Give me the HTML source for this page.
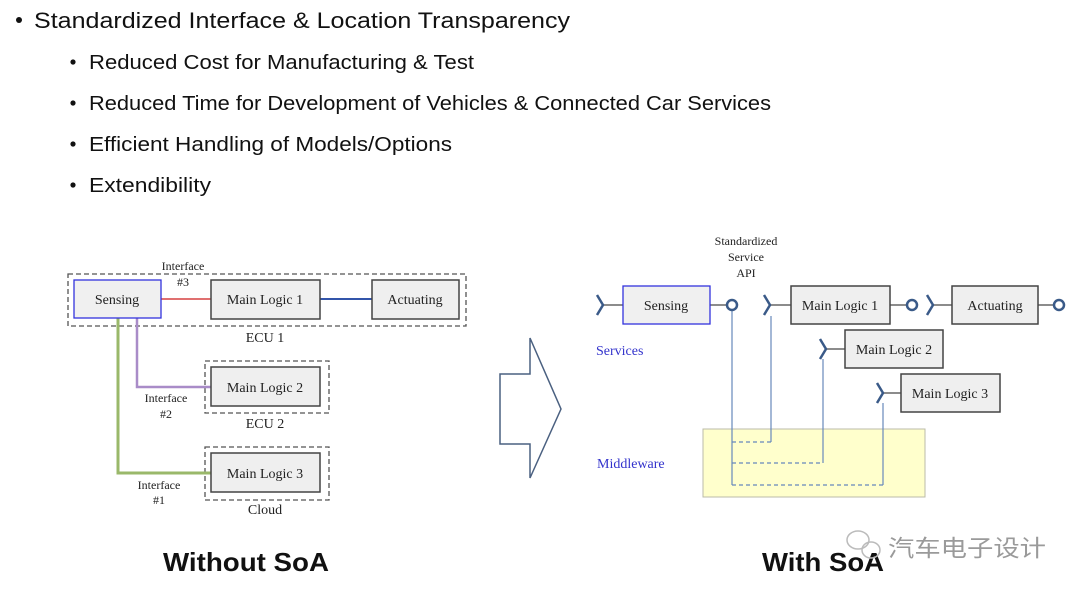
<!DOCTYPE html>
<html><head><meta charset="utf-8"><style>
html,body{margin:0;padding:0;background:#fff;}
svg{display:block;font-family:"Liberation Sans",sans-serif;}
.s{font-family:"Liberation Serif",serif;font-size:14px;fill:#222;}
.sm{font-family:"Liberation Serif",serif;font-size:12px;fill:#222;}
.bl{font-family:"Liberation Serif",serif;font-size:14px;fill:#3333cc;}
</style></head><body>
<svg width="1080" height="595" viewBox="0 0 1080 595" xmlns="http://www.w3.org/2000/svg">
<!-- bullets -->
<circle cx="19" cy="20" r="3" fill="#111"/>
<text x="34" y="28" font-size="22" fill="#111" textLength="536" lengthAdjust="spacingAndGlyphs">Standardized Interface &amp;  Location Transparency</text>
<g font-size="20" fill="#111">
<circle cx="73" cy="62" r="2.6" fill="#111"/>
<text x="89" y="69" textLength="385" lengthAdjust="spacingAndGlyphs">Reduced Cost for Manufacturing &amp; Test</text>
<circle cx="73" cy="103" r="2.6" fill="#111"/>
<text x="89" y="110" textLength="682" lengthAdjust="spacingAndGlyphs">Reduced Time for Development of Vehicles &amp; Connected Car Services</text>
<circle cx="73" cy="144" r="2.6" fill="#111"/>
<text x="89" y="151" textLength="363" lengthAdjust="spacingAndGlyphs">Efficient Handling of Models/Options</text>
<circle cx="73" cy="185" r="2.6" fill="#111"/>
<text x="89" y="192" textLength="122" lengthAdjust="spacingAndGlyphs">Extendibility</text>
</g>

<!-- LEFT diagram -->
<g fill="none" stroke="#555" stroke-width="1.3" stroke-dasharray="5,3">
<rect x="68" y="274" width="398" height="52"/>
<rect x="205" y="361" width="124" height="52"/>
<rect x="205" y="447" width="124" height="53"/>
</g>
<line x1="161" y1="299" x2="211" y2="299" stroke="#e07070" stroke-width="2"/>
<line x1="320" y1="299" x2="372" y2="299" stroke="#3355aa" stroke-width="2"/>
<polyline points="137,318 137,387 211,387" fill="none" stroke="#a98cc8" stroke-width="2.5"/>
<polyline points="118,318 118,473 211,473" fill="none" stroke="#9ab86a" stroke-width="3"/>
<rect x="74" y="280" width="87" height="38" fill="#f0f0f0" stroke="#3333dd" stroke-width="1.3"/>
<g fill="#efefef" stroke="#444" stroke-width="1.5">
<rect x="211" y="280" width="109" height="39"/>
<rect x="372" y="280" width="87" height="39"/>
<rect x="211" y="367" width="109" height="39"/>
<rect x="211" y="453" width="109" height="39"/>
</g>
<g text-anchor="middle">
<text x="117" y="304" class="s">Sensing</text>
<text x="265" y="304" class="s">Main Logic 1</text>
<text x="415" y="304" class="s">Actuating</text>
<text x="265" y="392" class="s">Main Logic 2</text>
<text x="265" y="478" class="s">Main Logic 3</text>
<text x="265" y="342" class="s" font-size="15">ECU 1</text>
<text x="265" y="428" class="s" font-size="15">ECU 2</text>
<text x="265" y="514" class="s" font-size="15">Cloud</text>
</g>
<g text-anchor="middle">
<text class="sm" x="183" y="270">Interface</text><text class="sm" x="183" y="286">#3</text>
<text class="sm" x="166" y="402">Interface</text><text class="sm" x="166" y="418">#2</text>
<text class="sm" x="159" y="489">Interface</text><text class="sm" x="159" y="504">#1</text>
</g>

<!-- Arrow -->
<polygon points="530,338 530,374 500,374 500,444 530,444 530,478 561,409" fill="#fff" stroke="#4a6080" stroke-width="1.5"/>

<!-- RIGHT diagram -->
<rect x="703" y="429" width="222" height="68" fill="#ffffcc" stroke="#bbbbaa" stroke-width="1"/>
<g stroke="#6688bb" stroke-width="1.2" fill="none">
<line x1="732" y1="310" x2="732" y2="485"/>
<line x1="771" y1="316" x2="771" y2="442"/>
<line x1="823" y1="359" x2="823" y2="463"/>
<line x1="883" y1="403" x2="883" y2="485"/>
<g stroke-dasharray="4,3">
<line x1="732" y1="442" x2="771" y2="442"/>
<line x1="732" y1="463" x2="823" y2="463"/>
<line x1="732" y1="485" x2="883" y2="485"/>
</g>
</g>
<g stroke="#666" stroke-width="1.5">
<line x1="603" y1="305" x2="623" y2="305"/>
<line x1="710" y1="305" x2="727" y2="305"/>
<line x1="770" y1="305" x2="791" y2="305"/>
<line x1="890" y1="305" x2="907" y2="305"/>
<line x1="933" y1="305" x2="952" y2="305"/>
<line x1="1038" y1="305" x2="1054" y2="305"/>
<line x1="826" y1="349" x2="845" y2="349"/>
<line x1="883" y1="393" x2="901" y2="393"/>
</g>
<g fill="none" stroke="#3a5a88" stroke-width="2.5">
<polyline points="597,295 603,305 597,315"/>
<polyline points="764,295 770,305 764,315"/>
<polyline points="927,295 933,305 927,315"/>
<polyline points="820,339 826,349 820,359"/>
<polyline points="877,383 883,393 877,403"/>
<circle cx="732" cy="305" r="5"/>
<circle cx="912" cy="305" r="5"/>
<circle cx="1059" cy="305" r="5"/>
</g>
<rect x="623" y="286" width="87" height="38" fill="#f0f0f0" stroke="#3333dd" stroke-width="1.3"/>
<g fill="#efefef" stroke="#444" stroke-width="1.5">
<rect x="791" y="286" width="99" height="38"/>
<rect x="952" y="286" width="86" height="38"/>
<rect x="845" y="330" width="98" height="38"/>
<rect x="901" y="374" width="99" height="38"/>
</g>
<g text-anchor="middle">
<text x="666" y="310" class="s">Sensing</text>
<text x="840" y="310" class="s">Main Logic 1</text>
<text x="995" y="310" class="s">Actuating</text>
<text x="894" y="354" class="s">Main Logic 2</text>
<text x="950" y="398" class="s">Main Logic 3</text>
</g>
<g text-anchor="middle">
<text class="sm" x="746" y="245">Standardized</text><text class="sm" x="746" y="261">Service</text><text class="sm" x="746" y="277">API</text>
</g>
<text x="596" y="355" class="bl">Services</text>
<text x="597" y="468" class="bl">Middleware</text>

<!-- titles -->
<text x="163" y="571" font-size="26" font-weight="bold" fill="#111" textLength="166" lengthAdjust="spacingAndGlyphs">Without SoA</text>
<text x="762" y="571" font-size="26" font-weight="bold" fill="#111" textLength="122" lengthAdjust="spacingAndGlyphs">With SoA</text>
<!-- watermark -->
<g fill="none" stroke="#bbb" stroke-width="1.5">
<ellipse cx="858" cy="540" rx="11" ry="9"/>
<ellipse cx="871" cy="550" rx="9" ry="8"/>
</g>
<text x="888" y="556" font-size="23" fill="#9a9a9a" style="font-family:'Liberation Sans','Noto Sans CJK SC',sans-serif" textLength="158" lengthAdjust="spacingAndGlyphs">汽车电子设计</text>
</svg>
</body></html>
